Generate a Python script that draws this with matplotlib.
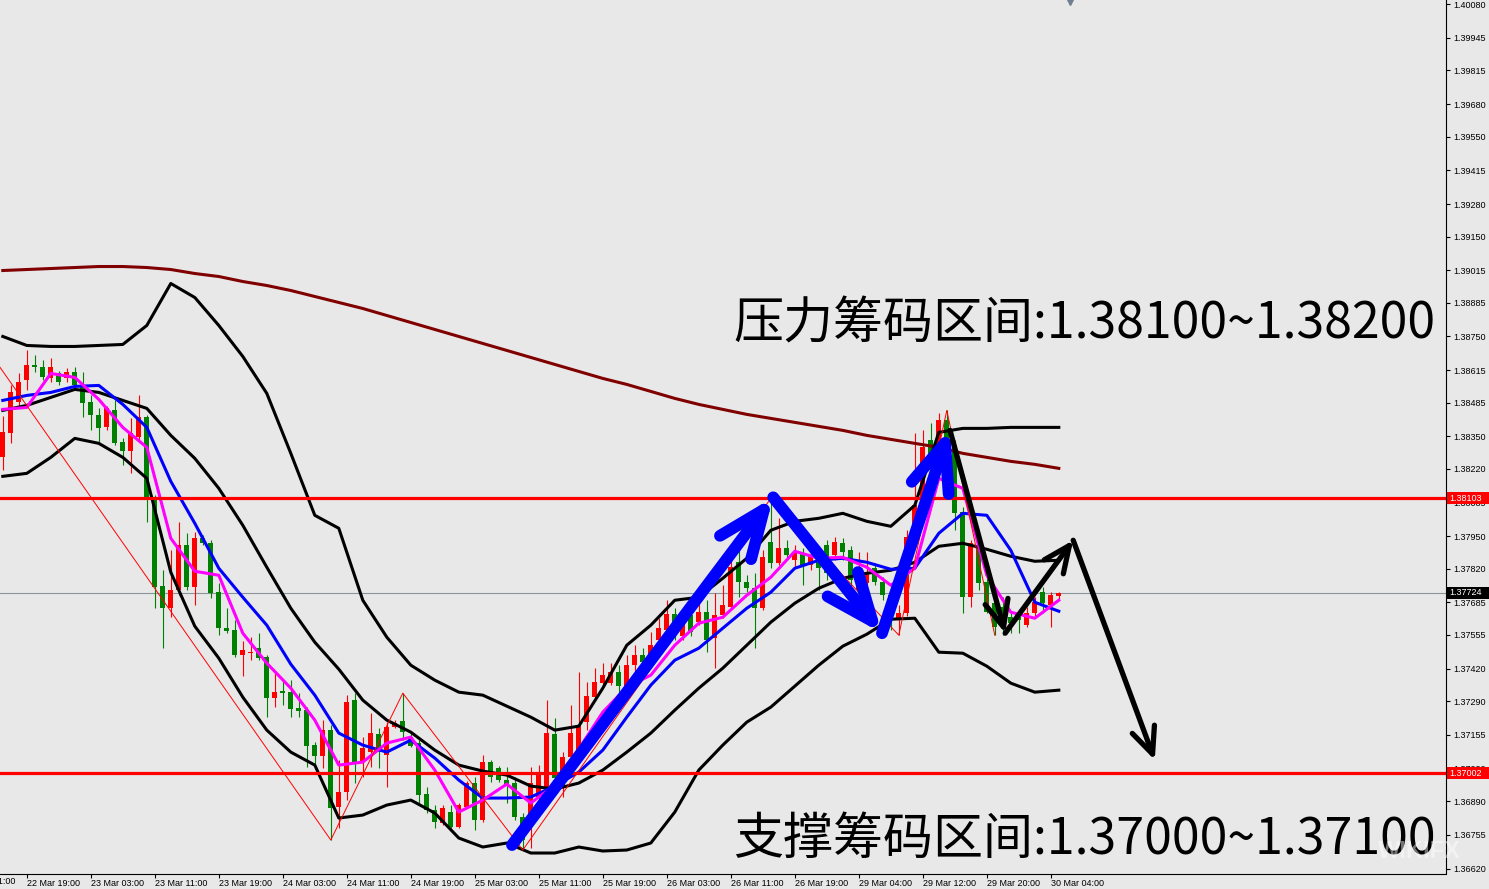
import numpy as np
import matplotlib
matplotlib.use("Agg")
import matplotlib.pyplot as plt
import matplotlib.transforms as mtrans
from matplotlib.patches import FancyArrowPatch, Rectangle

# H1 candles, bar 0 = 22 Mar 16:00
open_ = [1.38266, 1.38362, 1.38486, 1.38574, 1.38634, 1.38626, 1.38582, 1.38602, 1.38582, 1.38606,
         1.38546, 1.38486, 1.38434, 1.38386, 1.38454, 1.38326, 1.38290, 1.38346, 1.38426, 1.38106,
         1.37750, 1.37662, 1.37734, 1.37914, 1.37746, 1.37942, 1.37922, 1.37726, 1.37582, 1.37574,
         1.37474, 1.37482, 1.37502, 1.37466, 1.37302, 1.37330, 1.37326, 1.37262, 1.37254, 1.37114,
         1.37070, 1.37174, 1.36866, 1.36926, 1.37294, 1.37046, 1.37086, 1.37158, 1.37074, 1.37186,
         1.37210, 1.37146, 1.37122, 1.36918, 1.36854, 1.36802, 1.36846, 1.36786, 1.36866, 1.36962,
         1.36814, 1.37046, 1.37022, 1.36974, 1.36962, 1.36826, 1.36786, 1.36906, 1.36946, 1.37158,
         1.36946, 1.37066, 1.37074, 1.37206, 1.37306, 1.37362, 1.37362, 1.37406, 1.37350, 1.37434,
         1.37474, 1.37446, 1.37534, 1.37574, 1.37638, 1.37550, 1.37634, 1.37606, 1.37646, 1.37542,
         1.37634, 1.37666, 1.37846, 1.37766, 1.37742, 1.37662, 1.37926, 1.37842, 1.37902, 1.37854,
         1.37882, 1.37834, 1.37870, 1.37914, 1.37874, 1.37922, 1.37894, 1.37734, 1.37762, 1.37822,
         1.37766, 1.37714, 1.37614, 1.37642, 1.37946, 1.38074, 1.38334, 1.38314, 1.38414, 1.38314,
         1.38046, 1.37706, 1.37906, 1.37766, 1.37682, 1.37666, 1.37626, 1.37626, 1.37594, 1.37642,
         1.37726, 1.37674, 1.37710]
high_ = [1.38430, 1.38554, 1.38602, 1.38694, 1.38674, 1.38654, 1.38662, 1.38610, 1.38622, 1.38626,
         1.38606, 1.38514, 1.38462, 1.38470, 1.38494, 1.38342, 1.38422, 1.38514, 1.38434, 1.38114,
         1.37814, 1.37894, 1.38006, 1.37962, 1.37966, 1.37954, 1.37934, 1.37762, 1.37662, 1.37614,
         1.37530, 1.37546, 1.37562, 1.37474, 1.37406, 1.37374, 1.37374, 1.37322, 1.37266, 1.37126,
         1.37214, 1.37194, 1.37054, 1.37314, 1.37322, 1.37146, 1.37242, 1.37182, 1.37206, 1.37214,
         1.37322, 1.37166, 1.37134, 1.36946, 1.36874, 1.36874, 1.36874, 1.36882, 1.36970, 1.36986,
         1.37074, 1.37054, 1.37030, 1.37026, 1.36986, 1.36842, 1.37026, 1.37034, 1.37294, 1.37222,
         1.37086, 1.37274, 1.37406, 1.37366, 1.37422, 1.37442, 1.37442, 1.37434, 1.37474, 1.37514,
         1.37502, 1.37566, 1.37622, 1.37694, 1.37662, 1.37654, 1.37674, 1.37682, 1.37694, 1.37722,
         1.37754, 1.37902, 1.37922, 1.37794, 1.37802, 1.37894, 1.38102, 1.38022, 1.37934, 1.37914,
         1.37902, 1.37902, 1.37894, 1.37934, 1.37946, 1.37942, 1.37910, 1.37886, 1.37886, 1.37842,
         1.37786, 1.37734, 1.37674, 1.37974, 1.38362, 1.38374, 1.38402, 1.38442, 1.38454, 1.38334,
         1.38066, 1.37934, 1.37946, 1.37786, 1.37694, 1.37706, 1.37642, 1.37654, 1.37666, 1.37706,
         1.37746, 1.37726, 1.37726]
low_ = [1.38214, 1.38322, 1.38466, 1.38534, 1.38606, 1.38574, 1.38566, 1.38554, 1.38566, 1.38542,
        1.38426, 1.38374, 1.38326, 1.38374, 1.38314, 1.38234, 1.38202, 1.38334, 1.38006, 1.37662,
        1.37502, 1.37626, 1.37714, 1.37734, 1.37674, 1.37914, 1.37702, 1.37554, 1.37562, 1.37466,
        1.37390, 1.37454, 1.37454, 1.37226, 1.37266, 1.37274, 1.37226, 1.37226, 1.37026, 1.37034,
        1.37022, 1.36734, 1.36782, 1.36894, 1.36962, 1.36986, 1.37026, 1.37022, 1.36946, 1.37182,
        1.37134, 1.37106, 1.36882, 1.36842, 1.36782, 1.36794, 1.36782, 1.36782, 1.36862, 1.36774,
        1.36806, 1.36966, 1.36966, 1.36882, 1.36814, 1.36694, 1.36702, 1.36826, 1.36934, 1.36974,
        1.36906, 1.37054, 1.37062, 1.37174, 1.37294, 1.37350, 1.37354, 1.37326, 1.37334, 1.37406,
        1.37422, 1.37434, 1.37502, 1.37550, 1.37534, 1.37534, 1.37550, 1.37594, 1.37486, 1.37422,
        1.37622, 1.37654, 1.37706, 1.37726, 1.37502, 1.37654, 1.37822, 1.37834, 1.37854, 1.37822,
        1.37754, 1.37814, 1.37734, 1.37774, 1.37854, 1.37854, 1.37742, 1.37714, 1.37746, 1.37754,
        1.37694, 1.37574, 1.37554, 1.37630, 1.37934, 1.38054, 1.38214, 1.38294, 1.38314, 1.37974,
        1.37642, 1.37666, 1.37734, 1.37642, 1.37554, 1.37554, 1.37562, 1.37562, 1.37586, 1.37626,
        1.37642, 1.37586, 1.37694]
close_ = [1.38366, 1.38526, 1.38566, 1.38634, 1.38626, 1.38586, 1.38626, 1.38566, 1.38606, 1.38554,
          1.38482, 1.38434, 1.38382, 1.38462, 1.38322, 1.38290, 1.38362, 1.38426, 1.38106, 1.37746,
          1.37662, 1.37734, 1.37914, 1.37746, 1.37942, 1.37922, 1.37722, 1.37582, 1.37570, 1.37474,
          1.37494, 1.37486, 1.37462, 1.37302, 1.37326, 1.37322, 1.37258, 1.37250, 1.37110, 1.37070,
          1.37174, 1.36862, 1.36926, 1.37286, 1.37042, 1.37102, 1.37162, 1.37086, 1.37186, 1.37202,
          1.37166, 1.37110, 1.36914, 1.36854, 1.36806, 1.36862, 1.36786, 1.36874, 1.36962, 1.36814,
          1.37046, 1.36986, 1.36974, 1.36954, 1.36826, 1.36734, 1.36962, 1.37006, 1.37162, 1.36982,
          1.37066, 1.37162, 1.37194, 1.37310, 1.37366, 1.37394, 1.37406, 1.37350, 1.37434, 1.37474,
          1.37446, 1.37514, 1.37582, 1.37638, 1.37582, 1.37634, 1.37566, 1.37646, 1.37534, 1.37634,
          1.37674, 1.37826, 1.37766, 1.37742, 1.37662, 1.37866, 1.37842, 1.37902, 1.37874, 1.37886,
          1.37834, 1.37870, 1.37822, 1.37802, 1.37926, 1.37886, 1.37774, 1.37814, 1.37806, 1.37766,
          1.37714, 1.37634, 1.37642, 1.37946, 1.38074, 1.38306, 1.38274, 1.38414, 1.38334, 1.38042,
          1.37706, 1.37922, 1.37762, 1.37646, 1.37586, 1.37626, 1.37602, 1.37614, 1.37642, 1.37686,
          1.37682, 1.37714, 1.37724]

# indicator lines, sampled every 3 bars (bar 0, 3, ..., 132)
ma_long = [1.39014, 1.39018, 1.39022, 1.39026, 1.39030, 1.39030, 1.39026, 1.39018, 1.39002, 1.38990,
           1.38970, 1.38954, 1.38934, 1.38910, 1.38886, 1.38862, 1.38834, 1.38806, 1.38778, 1.38750,
           1.38722, 1.38694, 1.38666, 1.38638, 1.38610, 1.38582, 1.38558, 1.38530, 1.38502, 1.38478,
           1.38458, 1.38438, 1.38422, 1.38406, 1.38390, 1.38374, 1.38354, 1.38338, 1.38322, 1.38306,
           1.38282, 1.38266, 1.38250, 1.38238, 1.38222]
bb_upper = [1.38750, 1.38714, 1.38710, 1.38710, 1.38714, 1.38718, 1.38794, 1.38962, 1.38906, 1.38794,
            1.38670, 1.38522, 1.38282, 1.38034, 1.37982, 1.37694, 1.37546, 1.37434, 1.37374, 1.37326,
            1.37314, 1.37270, 1.37226, 1.37174, 1.37190, 1.37342, 1.37514, 1.37594, 1.37694, 1.37706,
            1.37782, 1.37862, 1.37974, 1.38010, 1.38022, 1.38042, 1.38010, 1.37990, 1.38074, 1.38366,
            1.38382, 1.38382, 1.38386, 1.38386, 1.38386]
bb_mid = [1.38454, 1.38474, 1.38506, 1.38538, 1.38526, 1.38494, 1.38462, 1.38354, 1.38262, 1.38142,
          1.37994, 1.37826, 1.37662, 1.37526, 1.37418, 1.37294, 1.37214, 1.37166, 1.37094, 1.37034,
          1.37010, 1.36994, 1.36950, 1.36938, 1.36962, 1.37014, 1.37086, 1.37162, 1.37254, 1.37342,
          1.37422, 1.37514, 1.37606, 1.37682, 1.37742, 1.37782, 1.37802, 1.37814, 1.37846, 1.37910,
          1.37922, 1.37898, 1.37870, 1.37850, 1.37854]
bb_lower = [1.38190, 1.38202, 1.38266, 1.38342, 1.38322, 1.38266, 1.38182, 1.37806, 1.37590, 1.37462,
            1.37306, 1.37174, 1.37086, 1.37034, 1.36822, 1.36834, 1.36874, 1.36894, 1.36842, 1.36742,
            1.36706, 1.36722, 1.36682, 1.36682, 1.36706, 1.36690, 1.36694, 1.36722, 1.36846, 1.37014,
            1.37114, 1.37206, 1.37266, 1.37350, 1.37434, 1.37510, 1.37558, 1.37618, 1.37622, 1.37486,
            1.37482, 1.37430, 1.37362, 1.37326, 1.37334]
ma_blue = [1.38494, 1.38514, 1.38526, 1.38550, 1.38554, 1.38478, 1.38386, 1.38170, 1.38002, 1.37822,
           1.37706, 1.37594, 1.37438, 1.37314, 1.37162, 1.37114, 1.37086, 1.37134, 1.37062, 1.36974,
           1.36902, 1.36902, 1.36906, 1.36950, 1.37006, 1.37094, 1.37226, 1.37354, 1.37454, 1.37502,
           1.37582, 1.37662, 1.37726, 1.37822, 1.37854, 1.37862, 1.37846, 1.37818, 1.37822, 1.37962,
           1.38042, 1.38034, 1.37894, 1.37686, 1.37650]
ma_magenta = [1.38458, 1.38466, 1.38602, 1.38586, 1.38498, 1.38386, 1.38306, 1.37942, 1.37810, 1.37794,
              1.37562, 1.37442, 1.37342, 1.37214, 1.37034, 1.37046, 1.37122, 1.37146, 1.37014, 1.36846,
              1.36894, 1.36958, 1.36882, 1.36954, 1.37098, 1.37246, 1.37346, 1.37394, 1.37514, 1.37602,
              1.37626, 1.37714, 1.37786, 1.37890, 1.37862, 1.37866, 1.37826, 1.37754, 1.37822, 1.38182,
              1.38142, 1.37794, 1.37646, 1.37622, 1.37694]

zz_bars = [-2, 41, 50, 65, 96, 112, 118, 124]
zz_price = [1.38702, 1.36734, 1.37322, 1.36694, 1.38102, 1.37554, 1.38454, 1.37554]

blue_path_x = [63.65, 96.3, 109.9, 118.4]
blue_path_y = [1.36714, 1.38106, 1.37562, 1.38382]
black_path_x = [118.4, 125.3, 133.8, 144.0]
black_path_y = [1.38374, 1.37562, 1.37934, 1.37054]

resist_level = 1.38103
support_level = 1.37002
bid = 1.37724

ytick_vals = [1.40080, 1.39945, 1.39815, 1.39680, 1.39550, 1.39415, 1.39280, 1.39150, 1.39015,
              1.38885, 1.38750, 1.38615, 1.38485, 1.38350, 1.38220, 1.38085, 1.37950, 1.37820,
              1.37685, 1.37555, 1.37420, 1.37290, 1.37155, 1.37020, 1.36890, 1.36755, 1.36620]
xtick_bars = [3, 11, 19, 27, 35, 43, 51, 59, 67, 75, 83, 91, 99, 107, 115, 123, 131]
xtick_labels = ["22 Mar 19:00", "23 Mar 03:00", "23 Mar 11:00", "23 Mar 19:00", "24 Mar 03:00",
                "24 Mar 11:00", "24 Mar 19:00", "25 Mar 03:00", "25 Mar 11:00", "25 Mar 19:00",
                "26 Mar 03:00", "26 Mar 11:00", "26 Mar 19:00", "29 Mar 04:00", "29 Mar 12:00",
                "29 Mar 20:00", "30 Mar 04:00"]

text_top = "压力筹码区间:1.38100~1.38200"
text_bottom = "支撑筹码区间:1.37000~1.37100"

BG = "#E8E8E8"
RED = "#FF0000"
GREEN = "#008000"

plt.rcParams["font.family"] = ["Liberation Sans", "DejaVu Sans"]

fig = plt.figure(figsize=(14.89, 8.89), dpi=100, facecolor=BG)
ax = fig.add_axes([0, 15.5 / 889, 1446 / 1489, 873.5 / 889], facecolor=BG)
ax.set_xlim(-0.35, 180.4)
ax.set_ylim(1.36600, 1.40097)

for s in ["left", "top"]:
    ax.spines[s].set_visible(False)
for s in ["right", "bottom"]:
    ax.spines[s].set_color("black")
    ax.spines[s].set_linewidth(0.8)

# bid line behind the candles
ax.axhline(bid, color="#8A939C", lw=0.8, zorder=1)

# candles
x = np.arange(len(open_))
o = np.array(open_)
h = np.array(high_)
l = np.array(low_)
c = np.array(close_)
cols = np.where(c >= o, RED, GREEN)
ax.vlines(x, l, h, colors=cols, lw=0.8, zorder=2)
body = np.where(np.abs(c - o) < 0.00004, 0.00004, c - o)
ax.bar(x, body, bottom=o, width=0.62, color=cols, lw=0, zorder=2.1)

# indicators
line_x = np.arange(0, 133, 3)
ax.plot(line_x, ma_long, color="#800000", lw=2.2, zorder=3)
for band in (bb_upper, bb_mid, bb_lower):
    ax.plot(line_x, band, color="black", lw=2.2, zorder=3)
ax.plot(line_x, ma_blue, color="#0000FF", lw=2.2, zorder=3.1)
ax.plot(line_x, ma_magenta, color="#FF00FF", lw=2.2, zorder=3.2)
ax.plot(zz_bars, zz_price, color=RED, lw=0.7, zorder=3.3)

# key levels
ax.axhline(resist_level, color=RED, lw=2.3, zorder=4)
ax.axhline(support_level, color=RED, lw=2.3, zorder=4)

# axes ticks
ax.yaxis.tick_right()
ax.set_yticks(ytick_vals, labels=[f"{v:.5f}" for v in ytick_vals])
ax.set_xticks(xtick_bars, labels=xtick_labels, ha="left")
ax.tick_params(axis="y", direction="out", length=3, width=0.8, pad=2, labelsize=6.5)
ax.tick_params(axis="x", direction="out", length=3, width=0.8, pad=1, labelsize=6.5)

blend_x = mtrans.blended_transform_factory(ax.transData, ax.transAxes)
ax.text(-5, -0.0045, "22 Mar 11:00", transform=blend_x, fontsize=6.5, ha="left",
        va="top", clip_on=False)

# price boxes on the price scale
blend_y = mtrans.blended_transform_factory(ax.transAxes, ax.transData)
for val, fc in [(resist_level, RED), (support_level, RED), (bid, "black")]:
    ax.add_patch(Rectangle((1.0005, val - 0.00024), 0.0295, 0.00048, transform=blend_y,
                           facecolor=fc, edgecolor="none", clip_on=False, zorder=10))
    ax.text(1.0025, val, f"{val:.5f}", transform=blend_y, color="white", fontsize=6.5,
            va="center", ha="left", clip_on=False, zorder=11)


def draw_arrows(px, py, color, lw, hl, hw):
    for i in range(len(px) - 1):
        ax.add_patch(FancyArrowPatch((px[i], py[i]), (px[i + 1], py[i + 1]),
                                     arrowstyle=f"->,head_length={hl},head_width={hw}",
                                     mutation_scale=1, color=color, lw=lw,
                                     shrinkA=0, shrinkB=0, capstyle="round",
                                     joinstyle="round", zorder=6))


draw_arrows(blue_path_x, blue_path_y, "#0000FF", 8.5, 34, 14)
draw_arrows(black_path_x, black_path_y, "black", 3.8, 19, 8.5)

cjk = ["Noto Sans CJK SC", "DejaVu Sans"]
ax.text(733 / 1446, 0.628, text_top, transform=ax.transAxes, fontsize=36, family=cjk,
        fontweight="medium", va="center", ha="left", zorder=8)
ax.text(733 / 1446, 0.038, text_bottom, transform=ax.transAxes, fontsize=36, family=cjk,
        fontweight="medium", va="center", ha="left", zorder=8)

# faint watermark and the small marker at the top
fig.text(1378 / 1489, 37 / 889, "WIKIFX", color="white", alpha=0.45, fontsize=17,
         fontweight="bold", va="center", ha="left")
ax.plot([133.4], [1.0], marker="v", ms=7, color="#6E7F91", transform=blend_x,
        clip_on=False, zorder=9)

fig.savefig("out.png", dpi=100, facecolor=BG)
